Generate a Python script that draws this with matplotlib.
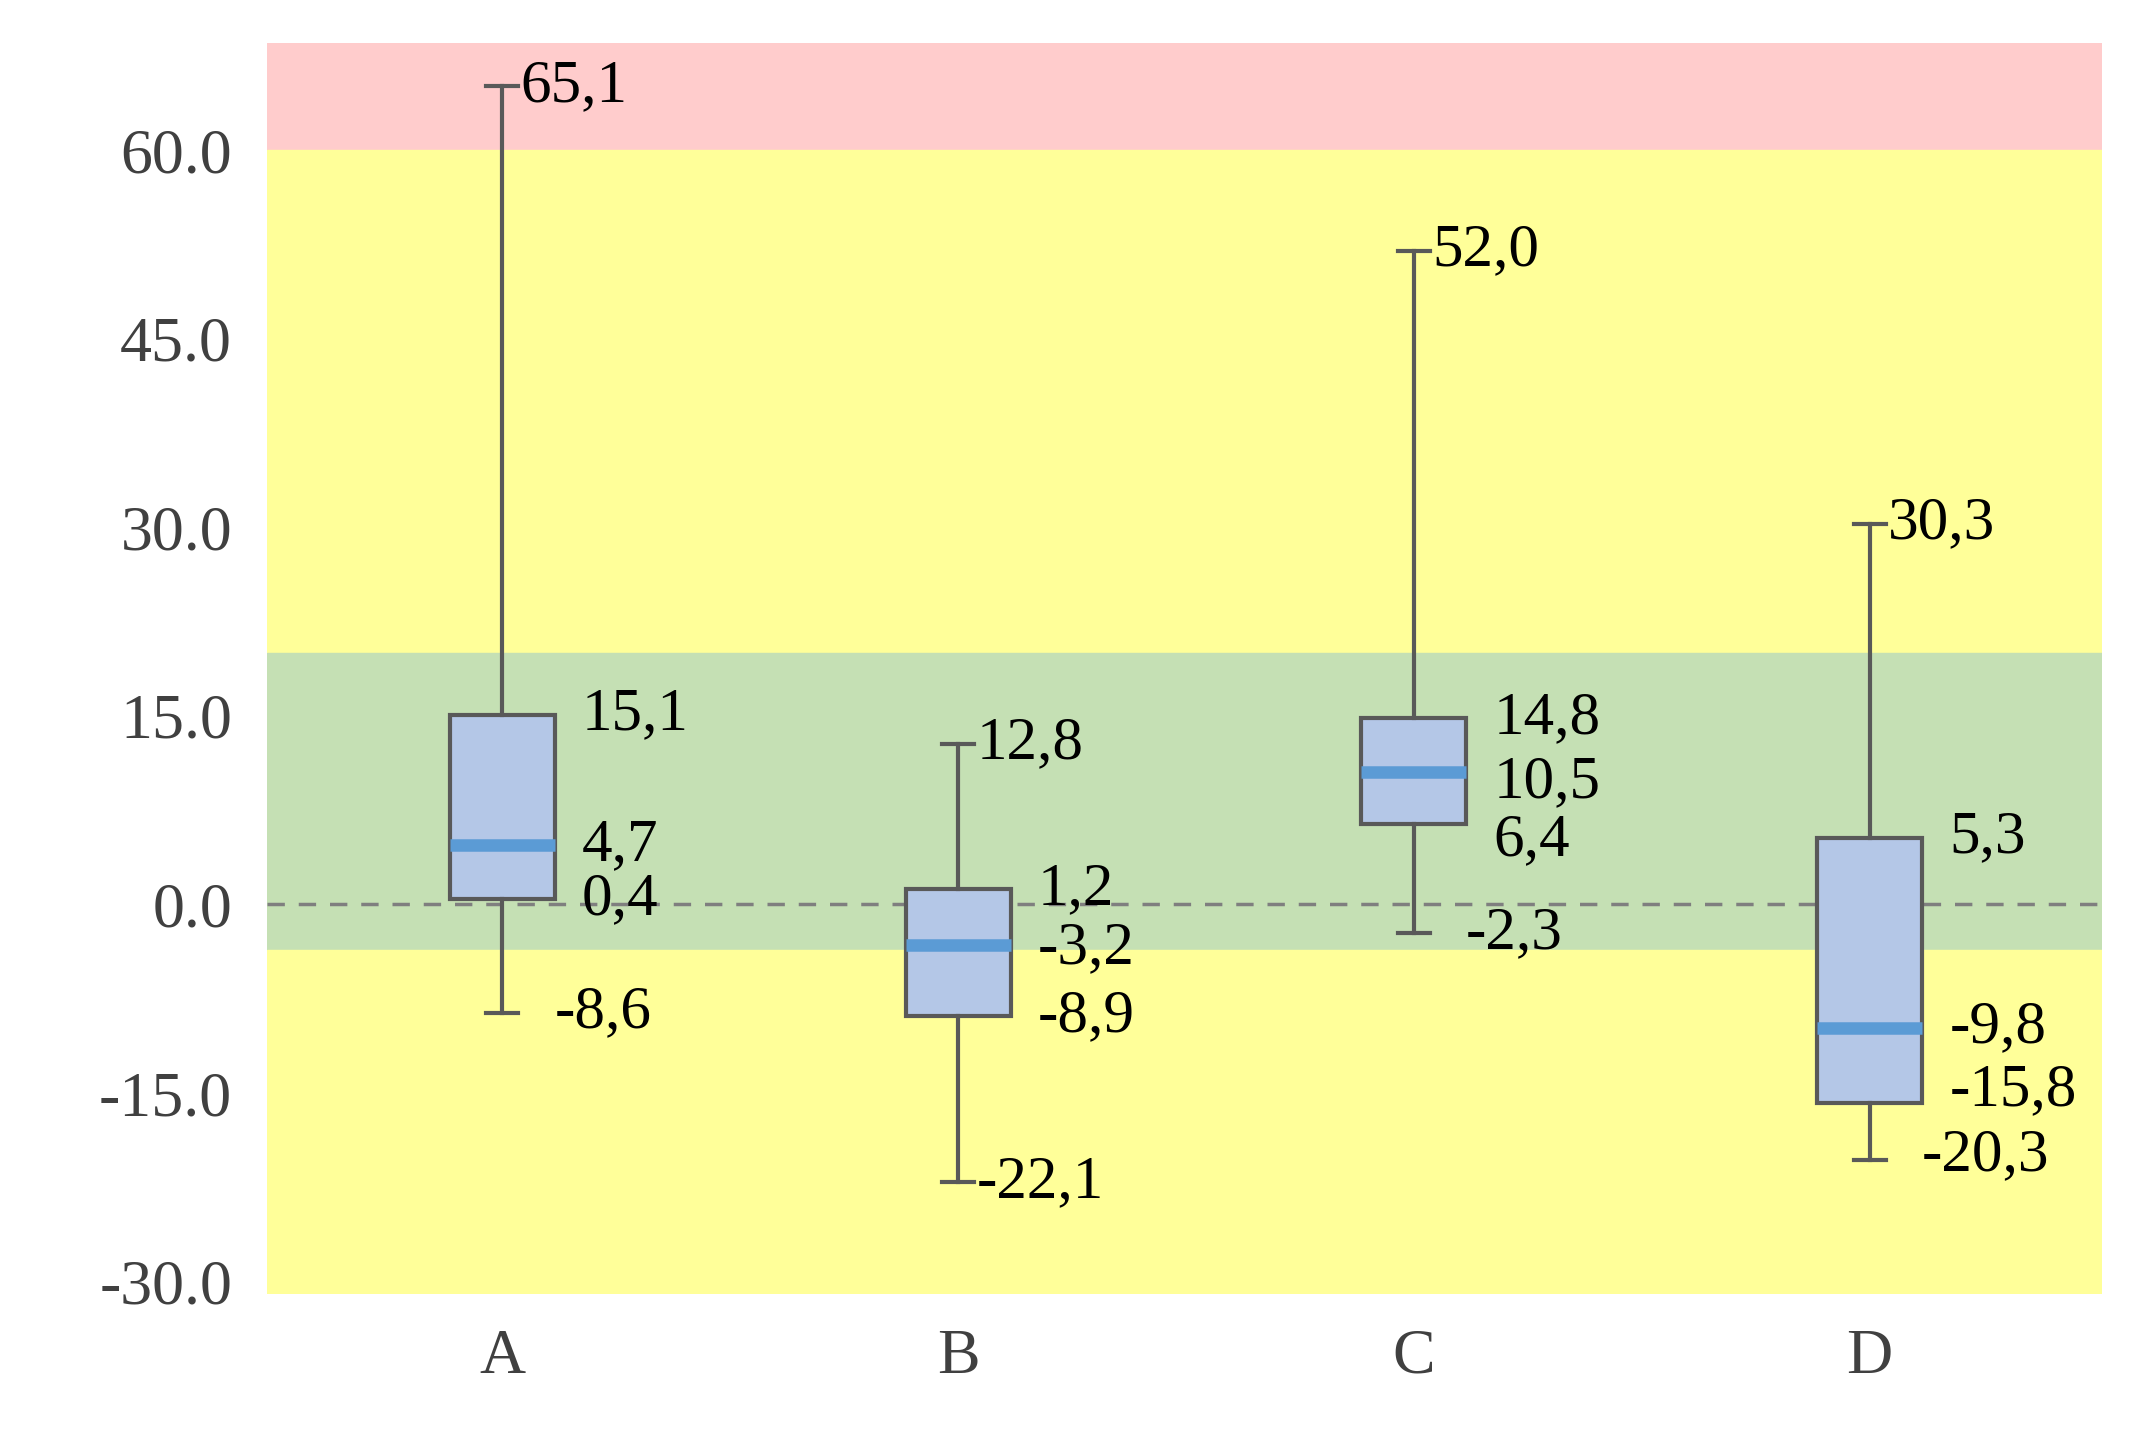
import matplotlib.pyplot as plt

categories = ['A', 'B', 'C', 'D']
whislo = [-8.6, -22.1, -2.3, -20.3]
q1 = [0.4, -8.9, 6.4, -15.8]
med = [4.7, -3.2, 10.5, -9.8]
q3 = [15.1, 1.2, 14.8, 5.3]
whishi = [65.1, 12.8, 52.0, 30.3]

plt.rcParams['font.family'] = ['Liberation Serif', 'DejaVu Serif']

fig = plt.figure(figsize=(21.34, 14.46), dpi=100)
ax = fig.add_axes([0.125, 0.105, 0.86, 0.865])

# background bands
ax.axhspan(60, 68.5, color='#ffcccc', zorder=0)
ax.axhspan(20, 60, color='#ffff99', zorder=0)
ax.axhspan(-3.6, 20, color='#c5e0b4', zorder=0)
ax.axhspan(-31, -3.6, color='#ffff99', zorder=0)
ax.axhline(0, color='#7f7f7f', ls=(0, (5, 4)), lw=2.5, zorder=1)

pos = [1, 2, 3, 4]
stats = []
for i, c in enumerate(categories):
    stats.append(dict(label=c, whislo=whislo[i], q1=q1[i], med=med[i],
                      q3=q3[i], whishi=whishi[i], fliers=[]))
bw = 0.23
ax.bxp(stats, positions=pos, widths=bw, patch_artist=True, showfliers=False,
       boxprops=dict(facecolor='#b4c7e7', edgecolor='#595959', lw=3),
       whiskerprops=dict(color='#595959', lw=3),
       capprops=dict(color='#595959', lw=3),
       medianprops=dict(color='#5b9bd5', lw=9),
       capwidths=0.07, zorder=3)

# label y nudges for readability
nudge = {(0, 'q1'): 0, (1, 'med'): -0.3, (2, 'med'): -0.8, (2, 'q1'): -1.3,
         (3, 'q1'): 1.0, (3, 'lo'): 0.3}
fs = 44
for i in range(4):
    p = pos[i]
    def fmt(v):
        return ('%.1f' % v).replace('.', ',')
    ax.text(p + 0.04, whishi[i], fmt(whishi[i]), fontsize=fs, va='center', ha='left')
    xb = p + bw / 2 + 0.06
    ax.text(xb, q3[i], fmt(q3[i]), fontsize=fs, va='center', ha='left')
    ax.text(xb, med[i] + nudge.get((i, 'med'), 0), fmt(med[i]), fontsize=fs, va='center', ha='left')
    ax.text(xb, q1[i] + nudge.get((i, 'q1'), 0), fmt(q1[i]), fontsize=fs, va='center', ha='left')
    xl = p + bw / 2 if i in (0, 2) else (p + 0.04 if i == 1 else p + bw / 2)
    ax.text(xl, whislo[i] + nudge.get((i, 'lo'), 0), fmt(whislo[i]), fontsize=fs, va='center', ha='left')

ax.set_xlim(0.483, 4.51)
ax.set_ylim(-31, 68.5)
ax.set_yticks([-30, -15, 0, 15, 30, 45, 60])
ax.set_yticklabels(['%.1f' % v for v in [-30, -15, 0, 15, 30, 45, 60]])
ax.set_xticks(pos)
ax.set_xticklabels(categories)
ax.tick_params(length=0, labelsize=46, colors='#404040', pad=25)
for s in ax.spines.values():
    s.set_visible(False)

fig.savefig('out.png')
